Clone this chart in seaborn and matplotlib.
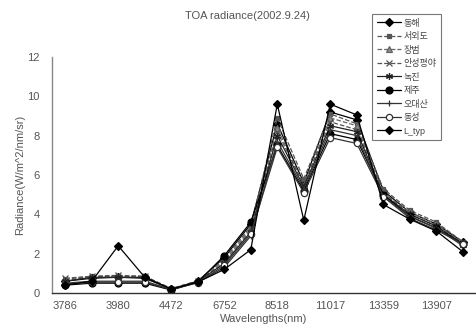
import matplotlib
matplotlib.use("Agg")
import matplotlib.pyplot as plt
import seaborn as sns
import pandas as pd

wavelengths = ["3786", "3992", "3980", "4056", "4472", "4545", "6752", "7338",
               "8518", "9730", "11017", "12032", "13359", "13683", "13907", "14195"]
tick_labels = ["3786", "", "3980", "", "4472", "", "6752", "", "8518", "",
               "11017", "", "13359", "", "13907", ""]

sites = ["동해", "서외도", "장범", "안성평야", "녹진", "제주", "오대산", "동성", "L_typ"]

donghae = [0.60, 0.75, 0.80, 0.75, 0.20, 0.60, 1.80, 3.50, 8.60, 5.60, 9.20, 8.80, 5.20, 4.10, 3.50, 2.60]
seoedo  = [0.70, 0.85, 0.85, 0.85, 0.22, 0.62, 1.70, 3.40, 8.90, 5.80, 9.10, 8.60, 5.30, 4.20, 3.60, 2.60]
jangbeom = [0.65, 0.80, 0.80, 0.80, 0.20, 0.60, 1.60, 3.30, 8.40, 5.50, 8.90, 8.50, 5.10, 4.10, 3.50, 2.50]
anseong = [0.75, 0.85, 0.90, 0.85, 0.22, 0.60, 1.50, 3.20, 8.20, 5.50, 8.70, 8.30, 5.10, 4.00, 3.40, 2.50]
nokjin  = [0.60, 0.80, 0.80, 0.80, 0.20, 0.58, 1.50, 3.10, 8.00, 5.40, 8.50, 8.20, 5.00, 4.00, 3.40, 2.50]
jeju    = [0.40, 0.50, 0.50, 0.50, 0.15, 0.55, 1.90, 3.60, 7.50, 5.20, 8.10, 7.80, 5.00, 3.90, 3.30, 2.50]
odaesan = [0.50, 0.60, 0.60, 0.60, 0.18, 0.55, 1.30, 2.90, 7.70, 5.30, 8.30, 8.00, 4.90, 3.90, 3.30, 2.40]
dongseong = [0.45, 0.55, 0.55, 0.55, 0.18, 0.52, 1.40, 3.00, 7.40, 5.10, 7.90, 7.60, 4.90, 3.80, 3.20, 2.50]
l_typ   = [0.40, 0.60, 2.40, 0.80, 0.20, 0.55, 1.20, 2.20, 9.60, 3.70, 9.60, 9.05, 4.50, 3.75, 3.15, 2.10]

values = [donghae, seoedo, jangbeom, anseong, nokjin, jeju, odaesan, dongseong, l_typ]

styles = {
    "동해":   dict(marker="D", color="black", ls="-", mfc="black", ms=4),
    "서외도": dict(marker="s", color="#555555", ls="--", mfc="#555555", ms=3.5),
    "장범":   dict(marker="^", color="#666666", ls="--", mfc="#888888", ms=4),
    "안성평야": dict(marker="x", color="#555555", ls="--", mfc="none", ms=4),
    "녹진":   dict(marker=(6, 2, 0), color="#222222", ls="-", mfc="none", ms=5),
    "제주":   dict(marker="o", color="black", ls="-", mfc="black", ms=5),
    "오대산": dict(marker="+", color="#333333", ls="-", mfc="none", ms=5),
    "동성":   dict(marker="o", color="#333333", ls="-", mfc="white", ms=4.5),
    "L_typ":  dict(marker="D", color="black", ls="-", mfc="black", ms=4),
}

sns.set_style("white")
plt.rcParams["font.family"] = ["Liberation Sans", "Noto Sans CJK KR", "DejaVu Sans"]

fig = plt.figure(figsize=(4.77, 3.29), dpi=100)
ax = fig.add_axes([0.109, 0.1094, 0.889, 0.7176])

idx = list(range(len(wavelengths)))
for site, vals in zip(sites, values):
    df = pd.DataFrame({"x": idx, "y": vals})
    st = styles[site]
    sns.lineplot(data=df, x="x", y="y", ax=ax, color=st["color"], linestyle=st["ls"],
                 marker=st["marker"], markerfacecolor=st["mfc"], markeredgecolor=st["color"],
                 markersize=st["ms"], markeredgewidth=0.9, linewidth=0.9, label=site,
                 sort=False)

ax.set_xlim(-0.5, len(wavelengths) - 0.5)
ax.set_ylim(0, 12)
ax.set_yticks([0, 2, 4, 6, 8, 10, 12])
ax.set_xticks(idx)
ax.set_xticklabels(tick_labels)
ax.set_xticks([i - 0.5 for i in range(len(wavelengths) + 1)], minor=True)
ax.tick_params(axis="x", which="major", length=0, labelsize=8, colors="#555555", pad=6)
ax.tick_params(axis="x", which="minor", length=3, direction="out", color="#444444")
ax.tick_params(axis="y", length=3, direction="out", labelsize=8, colors="#555555", pad=6)

for s in ["top", "right"]:
    ax.spines[s].set_visible(False)
ax.spines["left"].set_color("#888888")
ax.spines["bottom"].set_color("#333333")
ax.spines["left"].set_linewidth(1.0)
ax.spines["bottom"].set_linewidth(1.0)

ax.set_xlabel("Wavelengths(nm)", fontsize=8, color="#555555", labelpad=2)
ax.set_ylabel("Radiance(W/m^2/nm/sr)", fontsize=8, color="#555555", labelpad=1)
fig.text(0.518, 0.952, "TOA radiance(2002.9.24)", ha="center", va="center",
         fontsize=8, color="#555555")

leg = ax.legend(loc="upper left", bbox_to_anchor=(372 / 477, 1 - 14 / 329),
                bbox_transform=fig.transFigure, fontsize=6.5, frameon=True,
                fancybox=False, handlelength=2.7, labelspacing=0.5,
                borderpad=0.5, handletextpad=0.3, borderaxespad=0)
leg.get_frame().set_edgecolor("#555555")
leg.get_frame().set_linewidth(0.8)
for t in leg.get_texts():
    t.set_color("#444444")

fig.savefig("out.png", dpi=100)
